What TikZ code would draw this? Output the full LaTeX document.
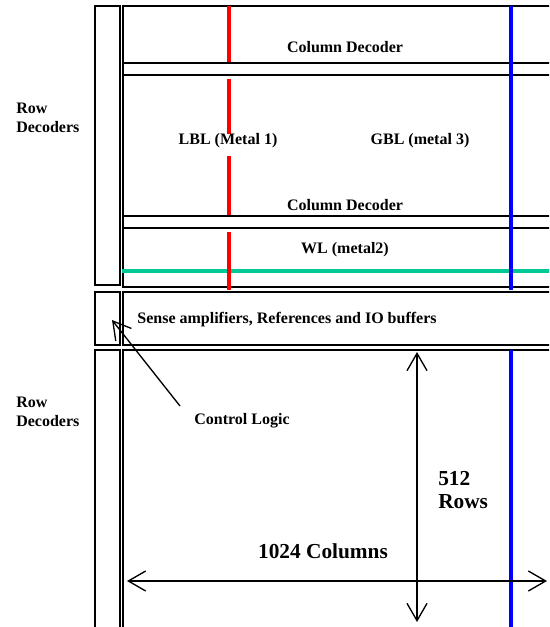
\documentclass[tikz,border=0pt]{standalone}
\usepackage{fontspec}
\setmainfont{Liberation Serif}
\usetikzlibrary{arrows.meta, positioning}
\definecolor{lblRed}{HTML}{FF0000}
\definecolor{gblBlue}{HTML}{0000FF}
\definecolor{wlGreen}{HTML}{00C896}
\tikzset{
  % block outlines
  blk/.style={draw=black, line width=1pt},
  % bit-line / word-line wires
  wire/.style={line width=#1, line cap=butt},
  % labels
  lbl/.style={font=\fontsize{12}{14}\selectfont\bfseries, inner sep=0pt},
  big/.style={font=\fontsize{16}{17.5}\selectfont\bfseries, inner sep=0pt},
  A/.style={-{Straight Barb[length=13pt,width=15pt,line width=1pt]}, line width=1pt},
  AA/.style={{Straight Barb[length=13pt,width=15pt,line width=1pt]}-{Straight Barb[length=13pt,width=15pt,line width=1pt]}, line width=1pt},
}
\begin{document}
\begin{tikzpicture}[x=0.75pt, y=-0.75pt]
\useasboundingbox (0,0) rectangle (549,627);
\clip (0,0) rectangle (549,627);

% =====================================================================
% BLOCK OUTLINES
% =====================================================================
% row decoder strips
\draw[blk] (95,6) rectangle (120,285);
\draw[blk] (95,292) rectangle (120,345);
\draw[blk] (95,350) rectangle (120,640);
% array / sense blocks
\draw[blk] (123,6) rectangle (560,287);
\draw[blk] (123,292) rectangle (560,345);
\draw[blk] (123,350) rectangle (560,640);
% column decoder bands
\draw[blk] (123,63) rectangle (560,75);
\draw[blk] (123,216) rectangle (560,228);

% =====================================================================
% WIRES
% =====================================================================
\draw[wire=2.5pt, wlGreen] (122,271) -- (560,271);
% local bit line (broken at decoders and label)
\foreach \ya/\yb in {6/62, 79/134, 156/215, 232/290}
  \draw[wire=3pt, lblRed] (229,\ya) -- (229,\yb);
% global bit line
\draw[wire=3pt, gblBlue] (511,6) -- (511,290);
\draw[wire=3pt, gblBlue] (511,350) -- (511,640);

% =====================================================================
% LABELS
% =====================================================================
\node[lbl] (cd1) at (345,47) {Column Decoder};
\node[lbl] (lbl) at (228,141) {LBL (Metal 1)};
\node[lbl] (gbl) at (420,141) {GBL (metal 3)};
\node[lbl] (cd2) at (345,205) {Column Decoder};
\node[lbl] (wl) at (345,250) {WL (metal2)};
\node[lbl] (sa) at (287,320) {Sense amplifiers, References and IO buffers};
\node[lbl, align=left, anchor=west] (rd1) at (16,118) {Row\\Decoders};
\node[lbl, align=left, anchor=west] (rd2) at (16,412) {Row\\Decoders};
\node[lbl] (ctl) at (242,421) {Control Logic};
\node[big, align=left, anchor=west] (rows) at (438,490) {512\\Rows};
\node[big] (cols) at (323,551) {1024 Columns};

% =====================================================================
% ARROWS
% =====================================================================
\coordinate (ctlTail) at (180,406);
\coordinate (ctlTip) at (112,320);
\draw[A] (ctlTail) -- (ctlTip);

\coordinate (colL) at (127,581);
\coordinate (colR) at (547,581);
\draw[AA] (colL) -- (colR);

\coordinate (rowT) at (417,352);
\coordinate (rowB) at (417,622);
\draw[AA] (rowT) -- (rowB);

\end{tikzpicture}
\end{document}
